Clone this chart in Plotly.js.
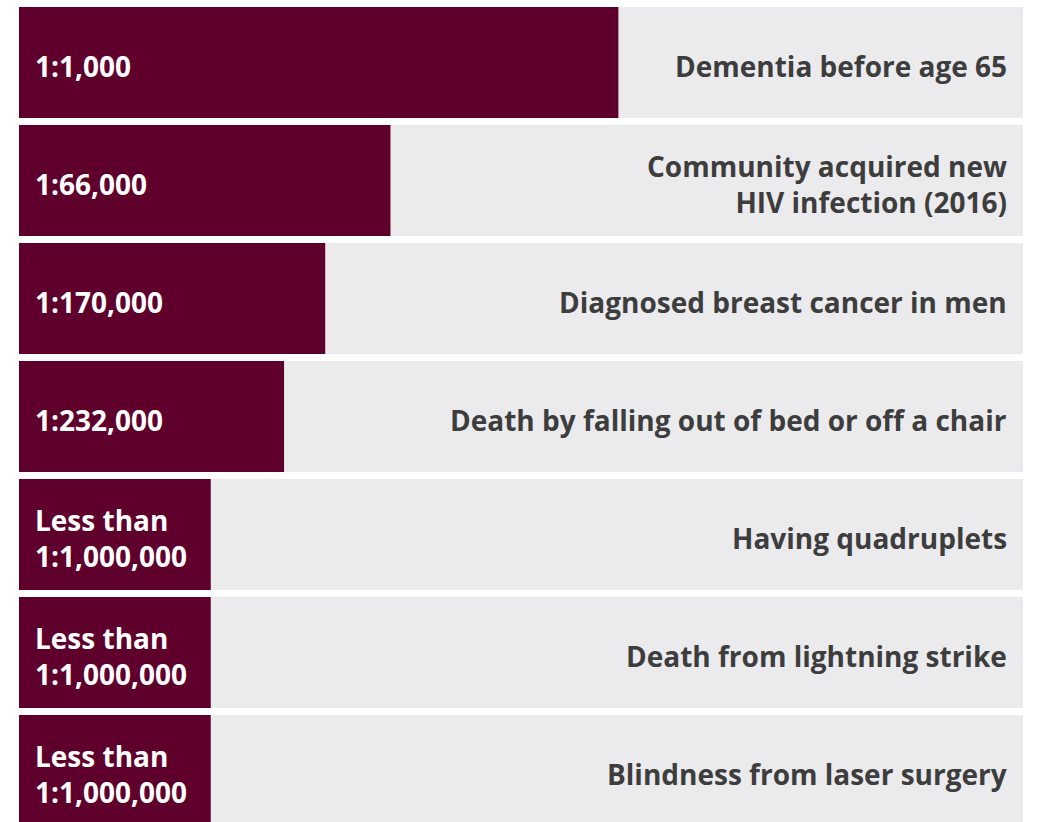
<!DOCTYPE html>
<html>
<head>
<meta charset="utf-8">
<script src="https://cdn.plot.ly/plotly-3.0.1.min.js"></script>
<style>html,body{margin:0;padding:0;background:#fff;}#chart{width:1045px;height:822px;}</style>
</head>
<body>
<div id="chart"></div>
<script>
const categories = [
  "Dementia before age 65",
  "Community acquired new<br>HIV infection (2016)",
  "Diagnosed breast cancer in men",
  "Death by falling out of bed or off a chair",
  "Having quadruplets",
  "Death from lightning strike",
  "Blindness from laser surgery"
];
const oddsLabels = [
  "1:1,000",
  "1:66,000",
  "1:170,000",
  "1:232,000",
  "Less than<br>1:1,000,000",
  "Less than<br>1:1,000,000",
  "Less than<br>1:1,000,000"
];
const barLengths = [59.7, 37.0, 30.5, 26.4, 19.1, 19.1, 19.1];
const fullScale = [100, 100, 100, 100, 100, 100, 100];

const yIdx = categories.map((_, i) => i);
const barW = 111 / 118;
const FONT = "Open Sans, sans-serif";

const traces = [
  {type: 'bar', orientation: 'h', y: yIdx, x: fullScale, width: barW,
   marker: {color: '#ebebed'}, hoverinfo: 'skip'},
  {type: 'bar', orientation: 'h', y: yIdx, x: barLengths, width: barW,
   marker: {color: '#5f002c'}, hoverinfo: 'skip'}
];

const annotations = [];
yIdx.forEach(i => {
  annotations.push({x: 0, y: i, xref: 'x', yref: 'y', text: oddsLabels[i],
    xanchor: 'left', xshift: 14, yshift: -3, align: 'left', showarrow: false,
    font: {family: FONT, size: 28, color: '#ffffff', weight: 700}});
  annotations.push({x: 100, y: i, xref: 'x', yref: 'y', text: categories[i],
    xanchor: 'right', xshift: -14, yshift: -3, align: 'right', showarrow: false,
    font: {family: FONT, size: 28, color: '#3d3d3d', weight: 700}});
});

const layout = {
  width: 1045, height: 822,
  margin: {l: 19, r: 22, t: 0, b: 0, pad: 0},
  paper_bgcolor: '#ffffff', plot_bgcolor: '#ffffff',
  barmode: 'overlay', showlegend: false,
  xaxis: {range: [0, 100], visible: false, fixedrange: true},
  yaxis: {range: [(822 - 62.5) / 118, -62.5 / 118], visible: false, fixedrange: true},
  annotations: annotations
};

Plotly.newPlot('chart', traces, layout, {staticPlot: true, displayModeBar: false});
</script>
</body>
</html>
